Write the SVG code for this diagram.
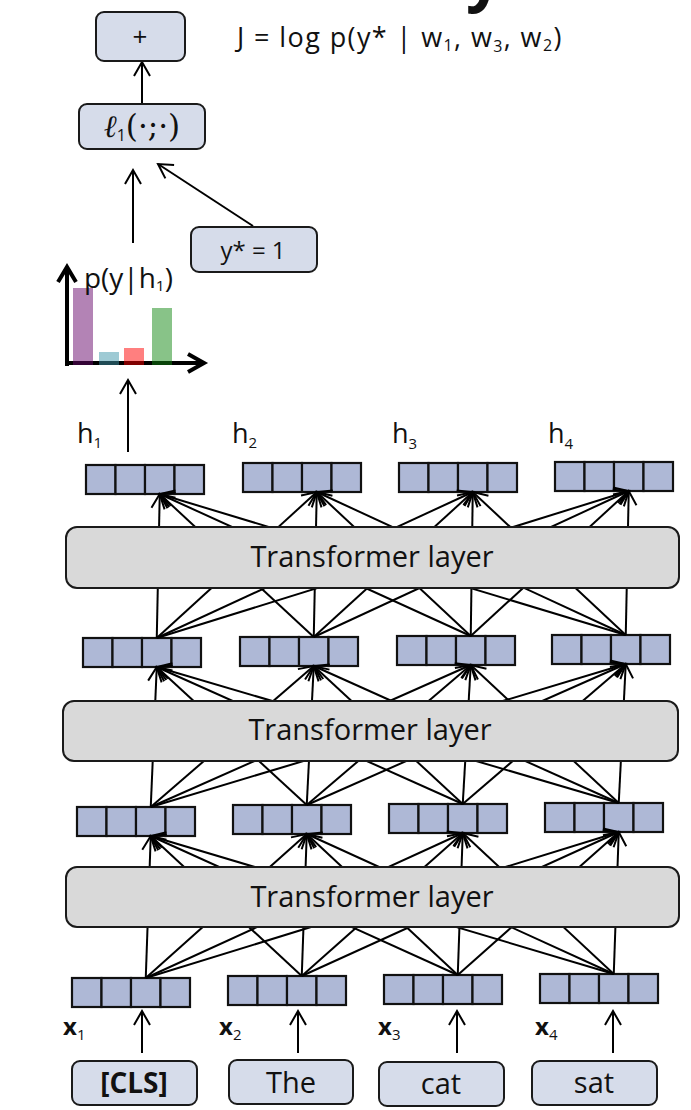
<svg xmlns="http://www.w3.org/2000/svg" xmlns:xlink="http://www.w3.org/1999/xlink" width="691" height="1110" viewBox="0 0 691 1110">
<style>
.box{fill:#d6dcea;stroke:#1a1a1a;stroke-width:2}
.layer{fill:#d9d9d9;stroke:#1a1a1a;stroke-width:2}
.cell{fill:#aeb8d6;stroke:#111;stroke-width:2.2}
.conn{stroke:#000;stroke-width:2;fill:none;marker-end:url(#ah)}
.axis{stroke:#000;stroke-width:4;fill:none}
text{font-family:"Open Sans","Noto Sans",sans-serif;fill:#111}
.lt{font-size:29px;text-anchor:middle}
.hl{font-size:27px}
.xl{font-size:24px;font-weight:bold}
.sub{font-size:15px;font-weight:normal}
.tok{font-size:29px;text-anchor:middle}
</style>
<defs>
<marker id="ah" markerUnits="userSpaceOnUse" viewBox="-16 -10 20 20" markerWidth="20" markerHeight="20" refX="0" refY="0" orient="auto">
<path d="M-14,-8 L0,0 L-14,8" stroke="#000" stroke-width="2" fill="none"/>
</marker>
<g id="vec">
<rect class="cell" x="0" y="0" width="29.5" height="29"/>
<rect class="cell" x="29.5" y="0" width="29.5" height="29"/>
<rect class="cell" x="59" y="0" width="29.5" height="29"/>
<rect class="cell" x="88.5" y="0" width="29.5" height="29"/>
</g>
</defs>
<rect width="691" height="1110" fill="#fff"/>

<text x="466" y="-2" style="font-size:64px;font-weight:bold">y</text>

<g id="vectors">
<g id="h1"><use xlink:href="#vec" x="86" y="465"/></g>
<g id="h2"><use xlink:href="#vec" x="243" y="463"/></g>
<g id="h3"><use xlink:href="#vec" x="399" y="463"/></g>
<g id="h4"><use xlink:href="#vec" x="555" y="462"/></g>
<g id="b1"><use xlink:href="#vec" x="83" y="638"/></g>
<g id="b2"><use xlink:href="#vec" x="240" y="637"/></g>
<g id="b3"><use xlink:href="#vec" x="397" y="636"/></g>
<g id="b4"><use xlink:href="#vec" x="552" y="635"/></g>
<g id="c1"><use xlink:href="#vec" x="77" y="807"/></g>
<g id="c2"><use xlink:href="#vec" x="233" y="805"/></g>
<g id="c3"><use xlink:href="#vec" x="389" y="804"/></g>
<g id="c4"><use xlink:href="#vec" x="545" y="803"/></g>
<g id="x1"><use xlink:href="#vec" x="72" y="978"/></g>
<g id="x2"><use xlink:href="#vec" x="228" y="976"/></g>
<g id="x3"><use xlink:href="#vec" x="384" y="975"/></g>
<g id="x4"><use xlink:href="#vec" x="540" y="974"/></g>
</g>

<g id="connectors">
<line class="conn" x1="156.75" y1="638" x2="159.75" y2="494"/>
<line class="conn" x1="156.75" y1="638" x2="316.75" y2="492"/>
<line class="conn" x1="156.75" y1="638" x2="472.75" y2="492"/>
<line class="conn" x1="156.75" y1="638" x2="628.75" y2="491"/>
<line class="conn" x1="313.75" y1="637" x2="159.75" y2="494"/>
<line class="conn" x1="313.75" y1="637" x2="316.75" y2="492"/>
<line class="conn" x1="313.75" y1="637" x2="472.75" y2="492"/>
<line class="conn" x1="313.75" y1="637" x2="628.75" y2="491"/>
<line class="conn" x1="470.75" y1="636" x2="159.75" y2="494"/>
<line class="conn" x1="470.75" y1="636" x2="316.75" y2="492"/>
<line class="conn" x1="470.75" y1="636" x2="472.75" y2="492"/>
<line class="conn" x1="470.75" y1="636" x2="628.75" y2="491"/>
<line class="conn" x1="625.75" y1="635" x2="159.75" y2="494"/>
<line class="conn" x1="625.75" y1="635" x2="316.75" y2="492"/>
<line class="conn" x1="625.75" y1="635" x2="472.75" y2="492"/>
<line class="conn" x1="625.75" y1="635" x2="628.75" y2="491"/>
<line class="conn" x1="150.75" y1="807" x2="156.75" y2="667"/>
<line class="conn" x1="150.75" y1="807" x2="313.75" y2="666"/>
<line class="conn" x1="150.75" y1="807" x2="470.75" y2="665"/>
<line class="conn" x1="150.75" y1="807" x2="625.75" y2="664"/>
<line class="conn" x1="306.75" y1="805" x2="156.75" y2="667"/>
<line class="conn" x1="306.75" y1="805" x2="313.75" y2="666"/>
<line class="conn" x1="306.75" y1="805" x2="470.75" y2="665"/>
<line class="conn" x1="306.75" y1="805" x2="625.75" y2="664"/>
<line class="conn" x1="462.75" y1="804" x2="156.75" y2="667"/>
<line class="conn" x1="462.75" y1="804" x2="313.75" y2="666"/>
<line class="conn" x1="462.75" y1="804" x2="470.75" y2="665"/>
<line class="conn" x1="462.75" y1="804" x2="625.75" y2="664"/>
<line class="conn" x1="618.75" y1="803" x2="156.75" y2="667"/>
<line class="conn" x1="618.75" y1="803" x2="313.75" y2="666"/>
<line class="conn" x1="618.75" y1="803" x2="470.75" y2="665"/>
<line class="conn" x1="618.75" y1="803" x2="625.75" y2="664"/>
<line class="conn" x1="145.75" y1="978" x2="150.75" y2="836"/>
<line class="conn" x1="145.75" y1="978" x2="306.75" y2="834"/>
<line class="conn" x1="145.75" y1="978" x2="462.75" y2="833"/>
<line class="conn" x1="145.75" y1="978" x2="618.75" y2="832"/>
<line class="conn" x1="301.75" y1="976" x2="150.75" y2="836"/>
<line class="conn" x1="301.75" y1="976" x2="306.75" y2="834"/>
<line class="conn" x1="301.75" y1="976" x2="462.75" y2="833"/>
<line class="conn" x1="301.75" y1="976" x2="618.75" y2="832"/>
<line class="conn" x1="457.75" y1="975" x2="150.75" y2="836"/>
<line class="conn" x1="457.75" y1="975" x2="306.75" y2="834"/>
<line class="conn" x1="457.75" y1="975" x2="462.75" y2="833"/>
<line class="conn" x1="457.75" y1="975" x2="618.75" y2="832"/>
<line class="conn" x1="613.75" y1="974" x2="150.75" y2="836"/>
<line class="conn" x1="613.75" y1="974" x2="306.75" y2="834"/>
<line class="conn" x1="613.75" y1="974" x2="462.75" y2="833"/>
<line class="conn" x1="613.75" y1="974" x2="618.75" y2="832"/>
<line class="conn" x1="142" y1="1053" x2="142" y2="1011"/>
<line class="conn" x1="298" y1="1053" x2="298" y2="1011"/>
<line class="conn" x1="457" y1="1053" x2="457" y2="1011"/>
<line class="conn" x1="613" y1="1053" x2="613" y2="1011"/>
<line class="conn" x1="128" y1="452" x2="128" y2="380"/>
<line class="conn" x1="133" y1="243" x2="133" y2="170"/>
<line class="conn" x1="253" y1="226" x2="158" y2="164"/>
<line class="conn" x1="142" y1="104" x2="142" y2="62"/>
</g>

<g id="layer3"><rect class="layer" x="66" y="527" width="613" height="61" rx="11"/><text class="lt" x="372" y="567">Transformer layer</text></g>
<g id="layer2"><rect class="layer" x="63" y="701" width="615" height="60" rx="11"/><text class="lt" x="370" y="740">Transformer layer</text></g>
<g id="layer1"><rect class="layer" x="66" y="867" width="613" height="60" rx="11"/><text class="lt" x="372" y="907">Transformer layer</text></g>

<g id="labels">
<text class="hl" x="77" y="443">h<tspan class="sub" dy="5">1</tspan></text>
<text class="hl" x="232" y="443">h<tspan class="sub" dy="5">2</tspan></text>
<text class="hl" x="392" y="443">h<tspan class="sub" dy="6">3</tspan></text>
<text class="hl" x="548" y="443">h<tspan class="sub" dy="6">4</tspan></text>
<text class="xl" x="63" y="1035">x<tspan class="sub" dy="5">1</tspan></text>
<text class="xl" x="219" y="1035">x<tspan class="sub" dy="5">2</tspan></text>
<text class="xl" x="378" y="1035">x<tspan class="sub" dy="5">3</tspan></text>
<text class="xl" x="535" y="1035">x<tspan class="sub" dy="5">4</tspan></text>
</g>

<g id="tok1"><rect class="box" x="72" y="1061" width="125" height="44" rx="8"/><text class="tok" x="134" y="1093" style="font-weight:bold;font-size:28px">[CLS]</text></g>
<g id="tok2"><rect class="box" x="229" y="1060" width="124" height="44" rx="8"/><text class="tok" x="291" y="1093">The</text></g>
<g id="tok3"><rect class="box" x="379" y="1062" width="125" height="44" rx="8"/><text class="tok" x="441" y="1094">cat</text></g>
<g id="tok4"><rect class="box" x="532" y="1061" width="125" height="44" rx="8"/><text class="tok" x="594" y="1093">sat</text></g>

<g id="chart">
<path class="axis" d="M67,366 L67,268"/>
<path class="axis" d="M58,282 L67,267 L76,282"/>
<path class="axis" d="M65,363 L203,363"/>
<path class="axis" d="M188,354 L204,363 L188,372"/>
<rect x="73" y="288" width="20" height="77" fill="rgb(103,7,107)" fill-opacity="0.5"/>
<rect x="99" y="352" width="20" height="13" fill="rgb(61,149,169)" fill-opacity="0.5"/>
<rect x="124" y="348" width="20" height="17" fill="rgb(255,0,0)" fill-opacity="0.5"/>
<rect x="152" y="308" width="20" height="57" fill="rgb(17,135,17)" fill-opacity="0.5"/>
<text x="84" y="288" style="font-size:27px" textLength="89" lengthAdjust="spacingAndGlyphs">p(y|h<tspan style="font-size:15px" dy="3">1</tspan><tspan dy="-3">)</tspan></text>
</g>

<g id="ystar"><rect class="box" x="191" y="227" width="126" height="45" rx="8"/><text x="253" y="259" style="font-size:24px;text-anchor:middle">y* = 1</text></g>
<g id="loss"><rect class="box" x="79" y="104" width="126" height="45" rx="8"/><text x="142" y="137" style="font-size:31px;text-anchor:middle"><tspan style="font-family:'DejaVu Serif',serif;font-style:italic">ℓ</tspan><tspan style="font-size:16px" dy="4">1</tspan><tspan dy="-4" style="font-family:'DejaVu Serif',serif">(·;·)</tspan></text></g>
<g id="sum"><rect class="box" x="96" y="12" width="89" height="49" rx="8"/><text x="140" y="46" style="font-size:26px;text-anchor:middle">+</text></g>

<text id="objective" x="237" y="47" style="font-size:27px;letter-spacing:1.4px">J = log p(y* | w<tspan style="font-size:16px" dy="4">1</tspan><tspan dy="-4">, w</tspan><tspan style="font-size:16px" dy="5">3</tspan><tspan dy="-5">, w</tspan><tspan style="font-size:16px" dy="4">2</tspan><tspan dy="-4">)</tspan></text>
</svg>
